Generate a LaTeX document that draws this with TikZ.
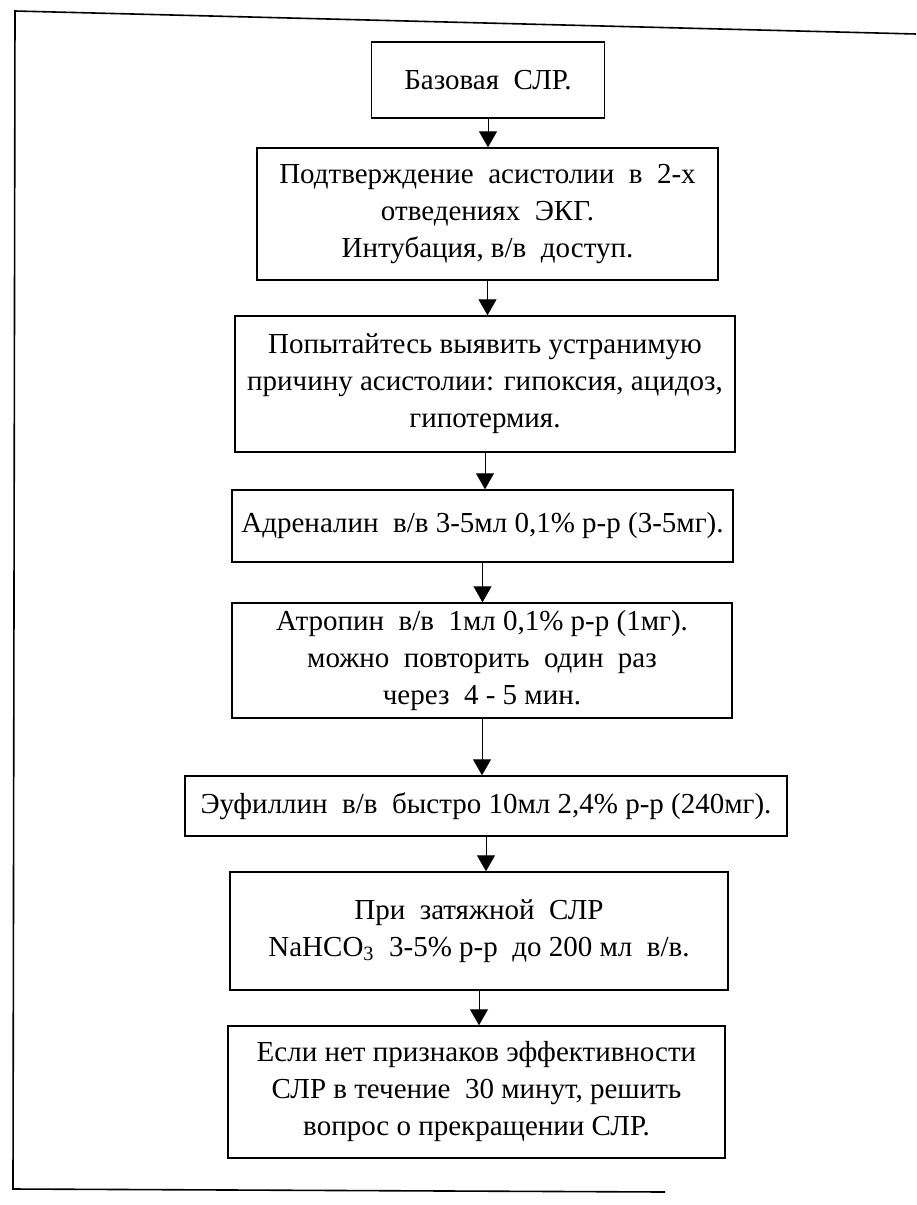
\documentclass[tikz,border=0pt]{standalone}
\usepackage{fontspec}
\setmainfont{Liberation Serif}
\usetikzlibrary{arrows.meta}
\tikzset{
  stepbox/.style = {draw=black, line width=0.7pt, align=center, inner sep=3pt,
                    font=\fontsize{14.5}{18.5}\selectfont},
  flow/.style    = {-{Triangle[length=8pt,width=9pt]}, line width=0.5pt},
  frameline/.style = {line width=0.8pt},
}
\begin{document}
\begin{tikzpicture}[x=0.5pt,y=-0.5pt]
  \useasboundingbox (0,0) rectangle (916,1205);
  \coordinate (tl) at (15,11);
  \coordinate (tr) at (916,34);
  \coordinate (bl) at (13,1189);
  \coordinate (br) at (665,1192);
  \draw[frameline] (tr) -- (tl) -- (bl) -- (br);

  \node[stepbox, minimum width=116.5pt, minimum height=38pt] (base) at (488,80) {Базовая\ \ СЛР.};
  \node[stepbox, minimum width=230.5pt, minimum height=66pt] (confirm) at (487.5,214)
    {Подтверждение\ \ асистолии\ \ в\ \ 2-х\\ отведениях\ \ ЭКГ.\\ Интубация, в/в\ \ доступ.};
  \node[stepbox, minimum width=250pt, minimum height=68pt] (cause) at (485,384)
    {Попытайтесь выявить устранимую\\ причину асистолии: гипоксия, ацидоз,\\ гипотермия.};
  \node[stepbox, minimum width=250.5pt, minimum height=36pt] (adren) at (482.5,526)
    {Адреналин\ \ в/в 3-5мл 0,1\% р-р (3-5мг).};
  \node[stepbox, minimum width=250pt, minimum height=57.5pt] (atrop) at (482,660.5)
    {Атропин\ \ в/в\ \ 1мл 0,1\% р-р (1мг).\\ можно\ \ повторить\ \ один\ \ раз\\ через\ \ 4 - 5 мин.};
  \node[stepbox, minimum width=301pt, minimum height=30pt] (euph) at (486,806)
    {Эуфиллин\ \ в/в\ \ быстро 10мл 2,4\% р-р (240мг).};
  \node[stepbox, minimum width=249pt, minimum height=59pt] (soda) at (479,931)
    {При\ \ затяжной\ \ СЛР\\ NaHCO\textsubscript{3}\ \ 3-5\% р-р\ \ до 200 мл\ \ в/в.};
  \node[stepbox, minimum width=248.5pt, minimum height=66pt] (stop) at (476.5,1092)
    {Если нет признаков эффективности\\ СЛР в течение\ \ 30 минут, решить\\ вопрос о прекращении СЛР.};

  \draw[flow] (base.south) -- (base.south |- confirm.north);
  \draw[flow] (confirm.south) -- (confirm.south |- cause.north);
  \draw[flow] (cause.south) -- (cause.south |- adren.north);
  \draw[flow] (adren.south) -- (adren.south |- atrop.north);
  \draw[flow] (atrop.south) -- (atrop.south |- euph.north);
  \draw[flow] (euph.south) -- (euph.south |- soda.north);
  \draw[flow] (soda.south) -- (soda.south |- stop.north);
\end{tikzpicture}
\end{document}
